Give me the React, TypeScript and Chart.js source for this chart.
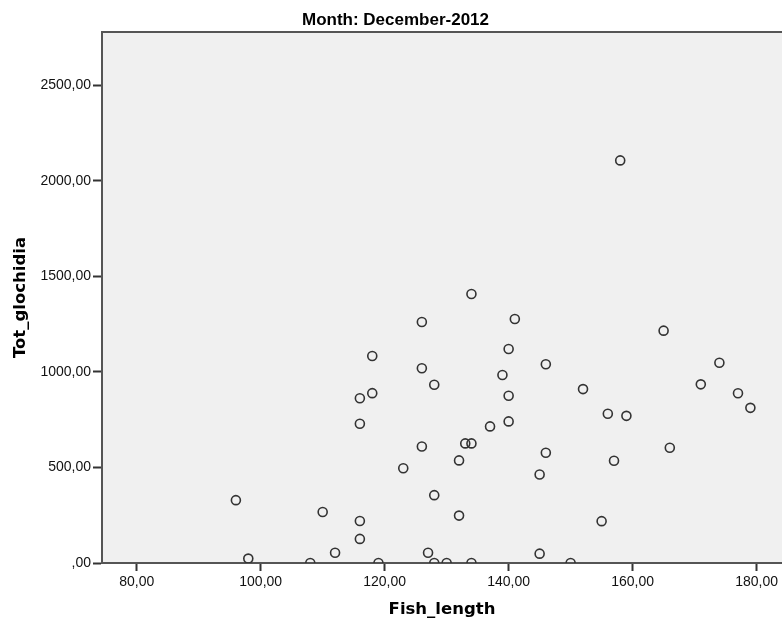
import React, { useEffect, useRef } from "react";
import { Chart, registerables } from "chart.js";

Chart.register(...registerables);

const chartTitle = "Month: December-2012";
const xTitle = "Fish_length";
const yTitle = "Tot_glochidia";

const fishLength = [
  96, 98, 108, 110, 112, 116, 116, 119, 118, 118, 116, 116, 123, 134, 126, 141, 140,
  146, 126, 128, 139, 152, 140, 140, 137, 133, 134, 126, 146, 132, 145, 157, 166,
  128, 132, 155, 127, 145, 128, 130, 134, 150, 165, 174, 171, 177, 179, 156, 159, 158,
];
const totGlochidia = [
  329, 23, 0, 267, 54, 220, 126, 0, 1083, 889, 862, 729, 496, 1408, 1261, 1277, 1120,
  1040, 1019, 933, 984, 910, 875, 741, 715, 626, 626, 610, 577, 537, 463, 535, 603,
  355, 248, 219, 54, 49, 0, 0, 0, 0, 1216, 1048, 935, 888, 812, 781, 770, 2107,
];

const xTicks = [80, 100, 120, 140, 160, 180];
const yTicks = [0, 500, 1000, 1500, 2000, 2500];

const xMin = 74.4;
const xMax = 184.1;
const yMin = 0;
const yMax = 2779;

const fmt = (v: number) => (v === 0 ? ",00" : v.toFixed(2).replace(".", ","));

export default function App() {
  const ref = useRef<HTMLCanvasElement | null>(null);

  useEffect(() => {
    if (!ref.current) return;
    const points = fishLength.map((x, i) => ({ x, y: totGlochidia[i] }));

    const frame = {
      id: "frame",
      beforeDraw(chart: any) {
        const { ctx, chartArea: a } = chart;
        ctx.save();
        ctx.fillStyle = "#f0f0f0";
        ctx.fillRect(a.left, a.top, a.right - a.left, a.bottom - a.top);
        ctx.restore();
      },
      afterDraw(chart: any) {
        const { ctx, chartArea: a } = chart;
        ctx.save();
        ctx.strokeStyle = "#555";
        ctx.lineWidth = 2;
        ctx.beginPath();
        ctx.moveTo(a.left, a.top);
        ctx.lineTo(a.right, a.top);
        ctx.stroke();
        ctx.fillStyle = "#000";
        ctx.font = "bold 17px 'Liberation Sans', Arial, sans-serif";
        ctx.textAlign = "center";
        ctx.textBaseline = "alphabetic";
        ctx.fillText(chartTitle, 395.5, 25);
        ctx.restore();
      },
    };

    const chart = new Chart(ref.current, {
      type: "scatter",
      data: {
        datasets: [
          {
            data: points,
            pointRadius: 4.5,
            pointHoverRadius: 4.5,
            pointBorderWidth: 1.6,
            borderColor: "#333",
            pointBorderColor: "#333",
            pointBackgroundColor: "rgba(0,0,0,0)",
            backgroundColor: "rgba(0,0,0,0)",
            clip: 0,
          } as any,
        ],
      },
      options: {
        animation: false,
        responsive: false,
        maintainAspectRatio: false,
        layout: { padding: { top: 32, left: 0, right: 0, bottom: 0 }, autoPadding: false },
        plugins: {
          legend: { display: false },
          tooltip: { enabled: false },
          title: { display: false },
        },
        scales: {
          x: {
            type: "linear",
            min: xMin,
            max: xMax,
            afterBuildTicks(scale: any) {
              scale.ticks = xTicks.map((value) => ({ value }));
            },
            afterFit(scale: any) {
              scale.height = 58;
              scale.paddingLeft = 0;
              scale.paddingRight = 0;
            },
            ticks: {
              callback: (v: any) => fmt(Number(v)),
              color: "#111",
              font: { family: "'Liberation Sans', Arial, sans-serif", size: 14 },
              padding: 3,
              maxRotation: 0,
              autoSkip: false,
            },
            grid: {
              drawOnChartArea: false,
              drawTicks: true,
              tickLength: 8,
              tickColor: "#333",
              tickWidth: 2,
            },
            border: { display: true, color: "#555", width: 2 },
            title: {
              display: true,
              text: xTitle,
              color: "#000",
              font: { family: "'DejaVu Sans', sans-serif", size: 16.5, weight: "bold", lineHeight: 1.2 },
              padding: { top: 0, bottom: 1 },
            },
          },
          y: {
            type: "linear",
            min: yMin,
            max: yMax,
            afterBuildTicks(scale: any) {
              scale.ticks = yTicks.map((value) => ({ value }));
            },
            afterFit(scale: any) {
              scale.width = 102;
              scale.paddingTop = 0;
              scale.paddingBottom = 0;
            },
            ticks: {
              callback: (v: any) => fmt(Number(v)),
              color: "#111",
              font: { family: "'Liberation Sans', Arial, sans-serif", size: 14 },
              padding: 2,
              autoSkip: false,
            },
            grid: {
              drawOnChartArea: false,
              drawTicks: true,
              tickLength: 9,
              tickColor: "#333",
              tickWidth: 2,
            },
            border: { display: true, color: "#555", width: 2 },
            title: {
              display: true,
              text: yTitle,
              color: "#000",
              font: { family: "'DejaVu Sans', sans-serif", size: 16.5, weight: "bold", lineHeight: 1.2 },
              padding: { top: 11, bottom: 0 },
            },
          },
        },
      },
      plugins: [frame],
    } as any);

    return () => chart.destroy();
  }, []);

  return (
    <div style={{ position: "fixed", left: 0, top: 0, width: 782, height: 621, background: "#fff" }}>
      <canvas ref={ref} width={782} height={621} style={{ display: "block", width: 782, height: 621 }} />
    </div>
  );
}
